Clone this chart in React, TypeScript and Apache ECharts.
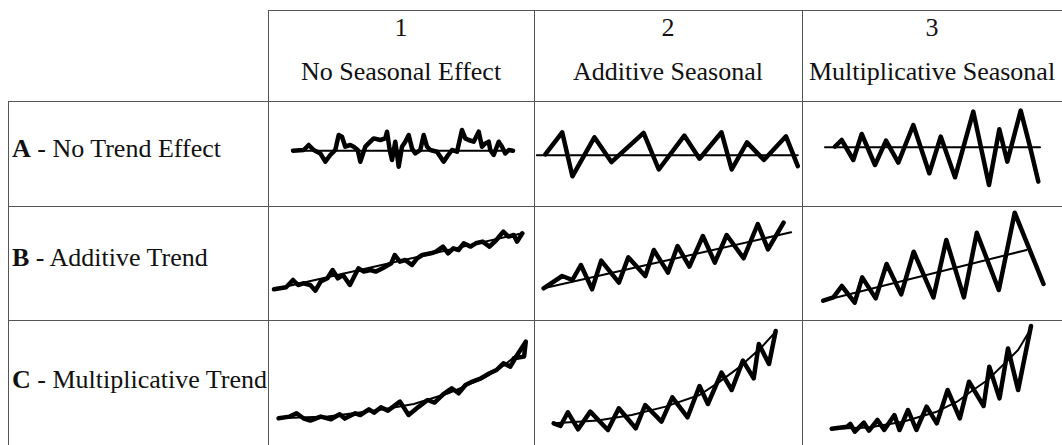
import { useEffect, useRef } from "react";
import * as echarts from "echarts";

// ---- Table text ----
const columnNumbers = ["1", "2", "3"];
const columnNames = ["No Seasonal Effect", "Additive Seasonal", "Multiplicative Seasonal"];
const rowLetters = ["A", "B", "C"];
const rowNames = ["No Trend Effect", "Additive Trend", "Multiplicative Trend"];

// ---- Series values: [time, value] ----
// Row A: no trend
const seriesA1 = [
  [0, 0], [10.7, 0.7], [15.7, 5.7], [20.7, 0.7], [27.3, -2.7], [32.3, -11], [37.3, -4.3], [42.3, 0.7],
  [45.7, 15.7], [49, 14], [52.3, 4], [57.3, 5.7], [60.7, 4], [64.7, 0.7], [67.3, -11], [72.3, 4],
  [77.3, 9], [80.7, 12.3], [87.3, 10.7], [92.3, 12.3], [94, 19], [96.7, 0.7], [99, -9.3], [102.3, 9],
  [105.7, -16], [109, 4], [112.3, 9], [115.7, 15.7], [119, 2.3], [122.3, -2.7], [127.3, 0.7], [130.7, 15.7],
  [134, 4], [137.3, 0.7], [144, -1], [150.7, -11], [154, -6], [159, 0.7], [164, -1], [169, 20.7],
  [172.3, 12.3], [175.7, 10.7], [180.7, 9], [185.7, 19], [189, 4], [192.3, 7.3], [195.7, 9], [197.3, 0.7],
  [200.7, -4.3], [205.7, 9], [209, 4], [212.3, -2.7], [215.7, 0.7], [220, 0],
];
const trendA1 = [[0, 0], [220, 0]];

const seriesA2 = [
  [8.5, 1], [25.4, 23], [35.6, -21], [57.6, 18], [74.6, -6.8], [106.8, 22.4], [122, -14.2],
  [147.5, 19.7], [162.7, -3.4], [184.7, 23], [194.9, -14.2], [210.2, 12.9], [227.1, -4.7],
  [249.2, 19], [261, -10.8],
];
const trendA2 = [[0, 0], [261, 0]];

const seriesA3 = [
  [10, 0.7], [16.7, 7.3], [28.3, -12.7], [36.7, 13.3], [50, -17.7], [61, 6.7], [73.3, -15.3],
  [88.3, 22.3], [104.3, -26], [115.7, 10.7], [130, -30], [148.3, 35.7], [164, -37.7], [174.3, 18],
  [182.3, -14.3], [195.7, 36.7], [205, 0.7], [213.3, -34.3],
];
const trendA3 = [[0, 0], [215, 0]];

// Row B: additive trend
const seriesB1 = [
  [0, 0], [12.1, 2], [19, 9.3], [24.1, 4.3], [29.3, 6], [36.2, 4.3], [41.4, -1.3], [46.6, 7.7],
  [53.4, 11], [58.6, 19.3], [63.8, 11], [69, 14.3], [75.9, 4.3], [79.3, 11], [84.5, 21], [89.7, 17.7],
  [96.6, 19.3], [101.7, 17.7], [108.6, 21], [117.2, 26], [120.7, 34.3], [125.9, 27.7], [131, 29.3],
  [137.9, 24.3], [143.1, 31], [148.3, 34.3], [156.9, 36], [162.1, 37.7], [169, 42.7], [174.1, 36],
  [179.3, 41], [184.5, 39.3], [189.7, 46], [196.6, 42.7], [201.7, 46], [208.6, 47.7], [215.5, 42.7],
  [222.4, 49.3], [229.3, 57.7], [234.5, 52.7], [239.7, 54.3], [243.1, 47.7], [248.3, 56],
];
const trendB1 = [[0, 0], [248.3, 56]];

const seriesB2 = [
  [0, 0], [18.6, 12.3], [28.8, 8.3], [37.3, 23.3], [48.5, -1], [57.6, 27.7], [75.3, 5.7], [84.7, 31],
  [101.7, 12.3], [110.2, 38.3], [124.4, 15.7], [133.9, 42.3], [145.8, 21.7], [159.3, 52.3],
  [171.2, 25.7], [183.1, 53.3], [200, 30], [214.2, 64.3], [224.4, 39], [240, 65.7],
];
const trendB2 = [[0, 0], [247.5, 56]];

const seriesB3 = [
  [0, 0], [10.2, 3.3], [18.6, 14.7], [31.5, -2], [39, 23.3], [52.5, 2.3], [63.4, 36.7], [78, 6.3],
  [90.5, 49], [110.2, 3.3], [123.1, 60.7], [140.7, 3.3], [153.6, 68], [175.6, 10.7], [191.5, 88],
  [220.3, 16.7],
];
const trendB3 = [[0, 0], [203.4, 50.7]];

// Row C: multiplicative trend
const seriesC1 = [
  [0, 0], [11, 1.7], [17.9, 5], [24.8, 0], [31.7, -2.3], [42.1, 1.7], [52.4, -1], [61, 4], [66.2, -0.3],
  [76.6, 5], [81.7, 3.3], [90.3, 9], [95.5, 5.7], [102.4, 11], [109.3, 7.7], [121.4, 16.7], [130, 3.3],
  [140.3, 11.7], [149, 18.3], [155.9, 15.7], [164.5, 24], [173.1, 30], [180, 25], [186.9, 33.3],
  [193.8, 36.7], [202.4, 40], [211, 45], [217.9, 48.3], [224.8, 55], [231.7, 51.7], [238.6, 63.3],
  [247.2, 76.7], [245.5, 61.7], [235.2, 60],
];
const trendC1 = [
  [0, 0], [49, 1.7], [100.7, 8.3], [135.2, 14.3], [169.7, 25], [204.1, 40], [221.4, 50], [238.6, 63.3],
  [247.2, 75],
];

const seriesC2 = [
  [0, 0], [6.8, -2.7], [14.2, 11], [24.4, -6], [36.6, 11.7], [54.2, -6.7], [65.1, 15], [82, -5],
  [91.5, 18.3], [107.8, 1.7], [118.6, 26], [133.9, 6], [145.8, 37.3], [154.2, 19.3], [167.8, 50.7],
  [178, 33.3], [189.2, 62.7], [200, 45], [205.1, 79.3], [215.3, 59.3], [222, 92.3],
];
const trendC2 = [
  [0, 0], [44.1, 2.7], [78, 8.3], [111.9, 16.7], [145.8, 28.3], [166.1, 41.7], [186.4, 56.7],
  [206.8, 75], [222, 91.7],
];

const seriesC3 = [
  [0, 0], [15.3, 2], [18.6, 4.7], [23.1, -3], [32.2, 6], [37.3, -2], [45.8, 8.7], [52.5, -1.3],
  [62.7, 13.7], [67.8, -1.3], [76.3, 18.7], [84.7, -1.3], [94.9, 22], [105.1, 5.3], [115.9, 38.7],
  [128.1, 10.3], [137.3, 47], [151.9, 22.7], [157.6, 62], [167.8, 30.3], [176.3, 80.3], [186.4, 38.7],
  [199.3, 102.7],
];
const trendC3 = [
  [0, 0], [37.3, 1.3], [71.2, 7], [105.1, 17], [125.4, 27], [139, 37], [155.9, 48.7], [172.9, 65.3],
  [186.4, 78.7], [199.3, 100.3],
];

const cellSeries = [
  [seriesA1, trendA1], [seriesA2, trendA2], [seriesA3, trendA3],
  [seriesB1, trendB1], [seriesB2, trendB2], [seriesB3, trendB3],
  [seriesC1, trendC1], [seriesC2, trendC2], [seriesC3, trendC3],
];

// ---- Layout (positions only) ----
const FONT = "'Liberation Serif', 'Times New Roman', Times, 'DejaVu Serif', serif";
const FONT_SIZE = 26;
const COL_X = [268, 534, 802];
const RIGHT = 1062;
const ROW_Y = [10, 101, 206, 320];
const BOTTOM = 445;
const LEFT = 8;
const HEADER_NUM_Y = 27;
const HEADER_NAME_Y = 71;
const ROW_LABEL_Y = [148, 257, 379];
// plot frames: origin (x0,y0) and axis extents
const plotFrames = [
  { x0: 293, y0: 150.7, xMax: 222, yMin: -30, yMax: 30 },
  { x0: 536.8, y0: 155.3, xMax: 264, yMin: -30, yMax: 30 },
  { x0: 825, y0: 147.3, xMax: 218, yMin: -42, yMax: 42 },
  { x0: 274, y0: 289.3, xMax: 252, yMin: -8, yMax: 62 },
  { x0: 543.6, y0: 288.3, xMax: 250, yMin: -8, yMax: 70 },
  { x0: 823.2, y0: 300.7, xMax: 224, yMin: -8, yMax: 92 },
  { x0: 278.6, y0: 418.3, xMax: 250, yMin: -8, yMax: 80 },
  { x0: 553.7, y0: 423.3, xMax: 225, yMin: -10, yMax: 95 },
  { x0: 831.7, y0: 428.7, xMax: 202, yMin: -8, yMax: 105 },
];

export default function App() {
  const ref = useRef<HTMLDivElement>(null);

  useEffect(() => {
    if (!ref.current) return;
    const chart = echarts.init(ref.current, undefined, { renderer: "svg" });

    const grids = plotFrames.map((f) => ({
      left: f.x0,
      top: f.y0 - f.yMax,
      width: f.xMax,
      height: f.yMax - f.yMin,
      containLabel: false,
    }));
    const xAxes = plotFrames.map((f, i) => ({
      type: "value", gridIndex: i, min: 0, max: f.xMax, show: false,
    }));
    const yAxes = plotFrames.map((f, i) => ({
      type: "value", gridIndex: i, min: f.yMin, max: f.yMax, show: false,
    }));
    const series: any[] = [];
    cellSeries.forEach(([main, trend], i) => {
      series.push({
        type: "line", xAxisIndex: i, yAxisIndex: i, data: trend, symbol: "none",
        clip: false, silent: true,
        lineStyle: { color: "#000", width: 2, join: "round", cap: "round" },
      });
      series.push({
        type: "line", xAxisIndex: i, yAxisIndex: i, data: main, symbol: "none",
        clip: false, silent: true,
        lineStyle: { color: "#000", width: 4.5, join: "round", cap: "round" },
      });
    });

    const lineStyle = { stroke: "#555", lineWidth: 1 };
    const textStyle = { fontFamily: FONT, fontSize: FONT_SIZE, fill: "#111" };
    const graphics: any[] = [];
    graphics.push({ type: "line", shape: { x1: COL_X[0], y1: ROW_Y[0] + 0.5, x2: RIGHT, y2: ROW_Y[0] + 0.5 }, style: lineStyle });
    for (let r = 1; r < ROW_Y.length; r++) {
      graphics.push({ type: "line", shape: { x1: LEFT, y1: ROW_Y[r] + 0.5, x2: RIGHT, y2: ROW_Y[r] + 0.5 }, style: lineStyle });
    }
    graphics.push({ type: "line", shape: { x1: LEFT + 0.5, y1: ROW_Y[1], x2: LEFT + 0.5, y2: BOTTOM }, style: lineStyle });
    COL_X.forEach((x) => {
      graphics.push({ type: "line", shape: { x1: x + 0.5, y1: ROW_Y[0], x2: x + 0.5, y2: BOTTOM }, style: lineStyle });
    });
    columnNumbers.forEach((n, i) => {
      const right = i < COL_X.length - 1 ? COL_X[i + 1] : RIGHT;
      const cx = (COL_X[i] + right) / 2;
      graphics.push({
        type: "text", x: cx, y: HEADER_NUM_Y,
        style: { ...textStyle, text: n, align: "center", verticalAlign: "middle" },
      });
      graphics.push({
        type: "text", x: cx, y: HEADER_NAME_Y,
        style: { ...textStyle, text: columnNames[i], align: "center", verticalAlign: "middle" },
      });
    });
    rowLetters.forEach((l, i) => {
      graphics.push({
        type: "text", x: LEFT + 4, y: ROW_LABEL_Y[i],
        style: {
          ...textStyle,
          text: `{b|${l}}{n| - ${rowNames[i]}}`,
          align: "left", verticalAlign: "middle",
          rich: {
            b: { fontWeight: "bold", fontSize: FONT_SIZE, fontFamily: FONT, fill: "#111" },
            n: { fontSize: FONT_SIZE, fontFamily: FONT, fill: "#111" },
          },
        },
      });
    });

    chart.setOption({
      animation: false,
      backgroundColor: "#fff",
      textStyle: { fontFamily: FONT },
      grid: grids,
      xAxis: xAxes,
      yAxis: yAxes,
      series,
      graphic: graphics,
    });
    return () => chart.dispose();
  }, []);

  return (
    <div
      ref={ref}
      style={{ position: "fixed", left: 0, top: 0, width: 1062, height: 445, background: "#fff", fontFamily: "'Liberation Serif', serif" }}
    />
  );
}
